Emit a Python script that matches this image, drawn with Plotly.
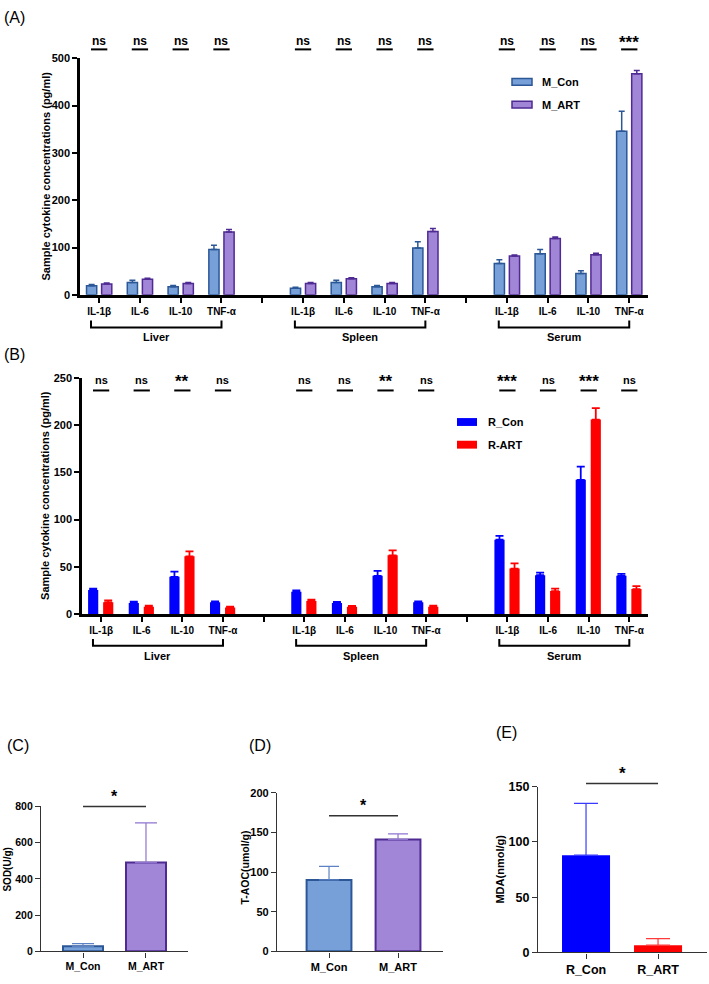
import plotly.graph_objects as go

W, H = 709, 984

# ---------------- data ----------------
cytokines = ["IL-1β", "IL-6", "IL-10", "TNF-α"]
tissues = ["Liver", "Spleen", "Serum"]

# Panel A (pg/ml)
m_con = [19, 26, 17, 96, 14, 26, 17, 99, 66, 87, 45, 346]
m_con_err = [3, 5, 3, 9, 2, 5, 3, 13, 8, 9, 6, 42]
m_art = [23, 33, 24, 133, 24, 34, 24, 134, 82, 119, 85, 467]
m_art_err = [2, 2, 2, 5, 2, 2, 2, 6, 2, 3, 3, 7]
sig_A = ["ns", "ns", "ns", "ns", "ns", "ns", "ns", "ns", "ns", "ns", "ns", "***"]

# Panel B (pg/ml)
r_con = [25.5, 12, 39.5, 12.6, 23.8, 12, 40.6, 12.6, 78.7, 41.2, 142, 40.6]
r_con_err = [1.5, 1.3, 5.5, 1, 1.4, 1, 5.2, 1, 4, 2.8, 14, 2]
r_art = [12.6, 8, 61.2, 7, 14, 8, 62.2, 8, 48.3, 24.5, 205.7, 26.6]
r_art_err = [2, 1, 5.2, 1, 1.4, 0.8, 5.3, 1, 5.5, 2.5, 12, 3]
sig_B = ["ns", "ns", "**", "ns", "ns", "ns", "**", "ns", "***", "ns", "***", "ns"]

# Panels C, D, E
m_groups = ["M_Con", "M_ART"]
r_groups = ["R_Con", "R_ART"]
sod = [28, 490]
sod_err = [15, 219]
taoc = [90, 141]
taoc_err = [17, 7]
mda = [88, 6.5]
mda_err = [47, 6]

# ---------------- styling / layout helpers ----------------
FONT = "Liberation Sans, Arial, sans-serif"
C_BLUE_F, C_BLUE_L = "#77a0d8", "#2b5797"
C_PURP_F, C_PURP_L = "#a185d6", "#4f2a92"
R_BLUE, R_RED = "#0000ff", "#ff0000"

def px_x(p):
    return p / W

def px_y(p):
    return 1 - p / H

# pixel boxes (left, right, top, bottom) and ranges
panels = {
    "A": dict(box=(80, 648, 52, 292), xr=(-0.47, 13.46), yr=(0, 500)),
    "B": dict(box=(82, 648, 376, 616), xr=(-0.47, 13.46), yr=(0, 250)),
    "C": dict(box=(41, 188, 811, 958), xr=(-0.667, 1.667), yr=(0, 800)),
    "D": dict(box=(277, 443, 797, 958), xr=(-0.754, 1.652), yr=(0, 200)),
    "E": dict(box=(538, 707, 791, 959), xr=(-0.667, 1.68), yr=(0, 150)),
}

def ypaper(panel, v):
    l, r, t, b = panels[panel]["box"]
    y0, y1 = panels[panel]["yr"]
    return px_y(b - (v - y0) / (y1 - y0) * (b - t))

positions = [0, 1, 2, 3, 5, 6, 7, 8, 10, 11, 12, 13]
tick_pos = list(range(14))
tick_txt = [cytokines[i % 5] if i % 5 < 4 else "" for i in tick_pos]

fig = go.Figure()

def bar(x, y, err, fill, line, lw, xa, ya, offset=None, width=None,
        ecol=None, ethick=1.5, ewidth=3):
    fig.add_trace(go.Bar(
        x=x, y=y, width=width, offset=offset,
        marker=dict(color=fill, line=dict(color=line, width=lw)),
        error_y=dict(type="data", array=err, arrayminus=[0] * len(err),
                     symmetric=False, color=ecol or line,
                     thickness=ethick, width=ewidth),
        xaxis=xa, yaxis=ya, showlegend=False))

# Panel A
bar(positions, m_con, m_con_err, C_BLUE_F, C_BLUE_L, 1.5, "x", "y", -0.31, 0.25)
bar(positions, m_art, m_art_err, C_PURP_F, C_PURP_L, 1.5, "x", "y", 0.06, 0.25)
# Panel B
bar(positions, r_con, r_con_err, R_BLUE, R_BLUE, 0, "x2", "y2", -0.32, 0.25,
    ecol=R_BLUE, ethick=1.8, ewidth=4)
bar(positions, r_art, r_art_err, R_RED, R_RED, 0, "x2", "y2", 0.05, 0.25,
    ecol=R_RED, ethick=1.8, ewidth=4)
# Panel C
bar([0], sod[:1], sod_err[:1], C_BLUE_F, C_BLUE_L, 2, "x3", "y3", None, 0.635,
    ecol="#5d82c4", ethick=1.2, ewidth=11)
bar([1], sod[1:], sod_err[1:], C_PURP_F, C_PURP_L, 2, "x3", "y3", None, 0.635,
    ecol="#8f74cf", ethick=1.2, ewidth=11)
# Panel D
bar([0], taoc[:1], taoc_err[:1], C_BLUE_F, C_BLUE_L, 2, "x4", "y4", None, 0.65,
    ecol="#5d82c4", ethick=1.2, ewidth=10)
bar([1], taoc[1:], taoc_err[1:], C_PURP_F, C_PURP_L, 2, "x4", "y4", None, 0.65,
    ecol="#8f74cf", ethick=1.2, ewidth=10)
# Panel E
bar([0], mda[:1], mda_err[:1], R_BLUE, R_BLUE, 0, "x5", "y5", None, 0.667,
    ecol="#3a3aff", ethick=1.2, ewidth=12)
bar([1], mda[1:], mda_err[1:], R_RED, R_RED, 0, "x5", "y5", None, 0.667,
    ecol="#ff3a3a", ethick=1.2, ewidth=12)

layout = dict(width=W, height=H, margin=dict(l=0, r=0, t=0, b=0),
              paper_bgcolor="white", plot_bgcolor="white",
              barmode="overlay", showlegend=False,
              font=dict(family=FONT, color="black"))

axis_names = {"A": ("xaxis", "yaxis"), "B": ("xaxis2", "yaxis2"),
              "C": ("xaxis3", "yaxis3"), "D": ("xaxis4", "yaxis4"),
              "E": ("xaxis5", "yaxis5")}
anchors = {"A": ("x", "y"), "B": ("x2", "y2"), "C": ("x3", "y3"),
           "D": ("x4", "y4"), "E": ("x5", "y5")}

for k, p in panels.items():
    l, r, t, b = p["box"]
    xn, yn = axis_names[k]
    xa, ya = anchors[k]
    big = k in ("A", "B")
    lw = 2.5 if big else 1.3
    lc = "black" if big else "#333333"
    if big:
        xt = dict(tickvals=tick_pos, ticktext=tick_txt)
        fs_x, fs_y = 10, 11
        dt = p["yr"][1] / 5
    else:
        xt = dict(tickvals=[0, 1], ticktext=r_groups if k == "E" else m_groups)
        fs_x = {"C": 10.5, "D": 11, "E": 12.5}[k]
        fs_y = fs_x
        dt = {"C": 200, "D": 50, "E": 50}[k]
    layout[xn] = dict(domain=[px_x(l), px_x(r)], range=list(p["xr"]), anchor=ya,
                      showgrid=False, zeroline=False, showline=True,
                      linecolor=lc, linewidth=lw, ticks="outside",
                      ticklen=5, tickwidth=2 if big else 1.3, tickcolor=lc,
                      tickfont=dict(size=fs_x, weight="bold", family=FONT),
                      fixedrange=True, **xt)
    layout[yn] = dict(domain=[px_y(b), px_y(t)], range=list(p["yr"]), anchor=xa,
                      showgrid=False, zeroline=False, showline=True,
                      linecolor=lc, linewidth=lw, ticks="outside",
                      ticklen=5, tickwidth=2 if big else 1.3, tickcolor=lc,
                      tick0=0, dtick=dt,
                      tickfont=dict(size=fs_y, weight="bold", family=FONT),
                      fixedrange=True)

fig.update_layout(**layout)

shapes = []
annots = []

def text(x, y, s, size, xref="paper", yref="paper", bold=True, angle=0,
         xanchor="center", yanchor="middle"):
    annots.append(dict(x=x, y=y, xref=xref, yref=yref, text=s, showarrow=False,
                       textangle=angle, xanchor=xanchor, yanchor=yanchor,
                       font=dict(size=size, family=FONT, color="black",
                                 weight="bold" if bold else "normal")))

def line(x0, x1, y0, y1, xref="paper", yref="paper", color="black", width=2):
    shapes.append(dict(type="line", x0=x0, x1=x1, y0=y0, y1=y1, xref=xref,
                       yref=yref, line=dict(color=color, width=width)))

# panel letters
text(px_x(14), px_y(11), "(A)", 16, bold=False)
text(px_x(14), px_y(353), "(B)", 16, bold=False)
text(px_x(18), px_y(749), "(C)", 16, bold=False)
text(px_x(260), px_y(749), "(D)", 16, bold=False)
text(px_x(506), px_y(736), "(E)", 16, bold=False)

# y titles
text(px_x(46), px_y(172), "Sample cytokine concentrations (pg/ml)", 11, angle=-90)
text(px_x(45), px_y(496), "Sample cytokine concentrations (pg/ml)", 11, angle=-90)
text(px_x(8), px_y(875), "SOD(U/g)", 10, angle=-90)
text(px_x(245), px_y(873), "T-AOC(umol/g)", 10.5, angle=-90)
text(px_x(500), px_y(875), "MDA(nmol/g)", 11, angle=-90)

# significance marks A / B
for xs, sig, xref, ty, ly in ((positions, sig_A, "x", 34, 43),
                              (positions, sig_B, "x2", 378, 389)):
    for p, s in zip(xs, sig):
        size = (11 if xref == "x2" else 12) if s == "ns" else 17
        dy = 0 if s == "ns" else 2
        text(p, px_y(ty + dy), s, size, xref=xref)
        line(p - 0.2, p + 0.2, px_y(ly), px_y(ly), xref=xref, width=2)

# tissue brackets
for xref, top, bot, lab in (("x", 318, 325, 335), ("x2", 641, 648, 658)):
    for j, tname in enumerate(tissues):
        a = positions[4 * j] - 0.2
        b = positions[4 * j + 3]
        shapes.append(dict(type="path", xref=xref, yref="paper",
                           path=f"M {a},{px_y(top)} L {a},{px_y(bot)} L {b},{px_y(bot)} L {b},{px_y(top)}",
                           line=dict(color="black", width=2)))
        text((a + b) / 2, px_y(lab), tname, 11, xref=xref)

# legends
for (y_px, fill, lc, name) in ((76, C_BLUE_F, C_BLUE_L, "M_Con"),
                               (99, C_PURP_F, C_PURP_L, "M_ART")):
    shapes.append(dict(type="rect", xref="paper", yref="paper",
                       x0=px_x(512), x1=px_x(532), y0=px_y(y_px - 3.5), y1=px_y(y_px + 3.5),
                       fillcolor=fill, line=dict(color=lc, width=1.5)))
    text(px_x(540), px_y(y_px), name, 11, xanchor="left")
for (y_px, col, name) in ((421, R_BLUE, "R_Con"), (444, R_RED, "R-ART")):
    shapes.append(dict(type="rect", xref="paper", yref="paper",
                       x0=px_x(457), x1=px_x(477), y0=px_y(y_px - 4), y1=px_y(y_px + 4),
                       fillcolor=col, line=dict(width=0)))
    text(px_x(486), px_y(y_px), name, 11, xanchor="left")

# significance C, D, E
for k, xref, lv, sz in (("C", "x3", 800, 16), ("D", "x4", 171, 16), ("E", "x5", 153, 17)):
    yl = ypaper(k, lv)
    line(0, 1, yl, yl, xref=xref, color="#333333", width=1.5)
    text(0.5, yl + 10 / H, "*", sz, xref=xref)

fig.update_layout(shapes=shapes, annotations=annots)
fig.write_html("out.html")
